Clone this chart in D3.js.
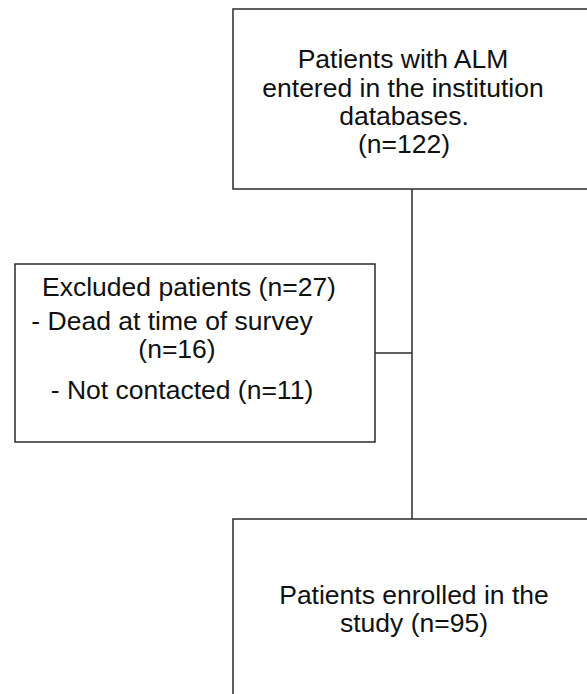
<!DOCTYPE html>
<html>
<head>
<meta charset="utf-8">
<script src="https://cdn.jsdelivr.net/npm/d3@7"></script>
<style>
  body { margin: 0; background: #fff; }
  svg { display: block; }
  text { font-family: "Liberation Sans", Arial, sans-serif; font-size: 26.5px; fill: #111; }
</style>
</head>
<body>
<svg id="flow" width="587" height="694"></svg>
<script>
/* flow chart data */
var stepNames = ["source", "excluded", "enrolled"];
var stepCounts = [122, 27, 95];
var sourceLines = ["Patients with ALM", "entered in the institution", "databases.", "(n=122)"];
var excludedLines = ["Excluded patients (n=27)", "- Dead at time of survey", "(n=16)", "- Not contacted (n=11)"];
var enrolledLines = ["Patients enrolled in the", "study (n=95)"];

var svg = d3.select("#flow");

// box layout (x0, y0, x1, y1)
var boxes = {
    source:   {x0: 233, y0: 9,   x1: 600, y1: 189},
    excluded: {x0: 15,  y0: 264, x1: 375, y1: 442},
    enrolled: {x0: 233, y0: 519, x1: 600, y1: 710}
};

// text placement for each line: [x centre, baseline]
var sourcePos = [[403, 68], [403, 96.5], [404, 125], [404, 153]];
var excludedPos = [[189, 296], [172, 330], [177, 358], [182, 399]];
var enrolledPos = [[414, 604], [414, 632]];

var stroke = "#2b2b2b";
var spineX = 412;

// connectors
svg.append("line")
    .attr("x1", spineX).attr("x2", spineX)
    .attr("y1", boxes.source.y1).attr("y2", boxes.enrolled.y0)
    .attr("stroke", stroke).attr("stroke-width", 1.5);
svg.append("line")
    .attr("x1", boxes.excluded.x1).attr("x2", spineX)
    .attr("y1", 353).attr("y2", 353)
    .attr("stroke", stroke).attr("stroke-width", 1.5);

// boxes
svg.selectAll("rect.box")
    .data(stepNames)
    .enter().append("rect")
    .attr("class", "box")
    .attr("x", d => boxes[d].x0)
    .attr("y", d => boxes[d].y0)
    .attr("width", d => boxes[d].x1 - boxes[d].x0)
    .attr("height", d => boxes[d].y1 - boxes[d].y0)
    .attr("fill", "#fff")
    .attr("stroke", stroke)
    .attr("stroke-width", 1.5);

function writeLines(lines, pos) {
    svg.append("g").selectAll("text")
        .data(lines)
        .enter().append("text")
        .attr("x", (d, i) => pos[i][0])
        .attr("y", (d, i) => pos[i][1])
        .attr("text-anchor", "middle")
        .text(d => d);
}

writeLines(sourceLines, sourcePos);
writeLines(excludedLines, excludedPos);
writeLines(enrolledLines, enrolledPos);
</script>
</body>
</html>
